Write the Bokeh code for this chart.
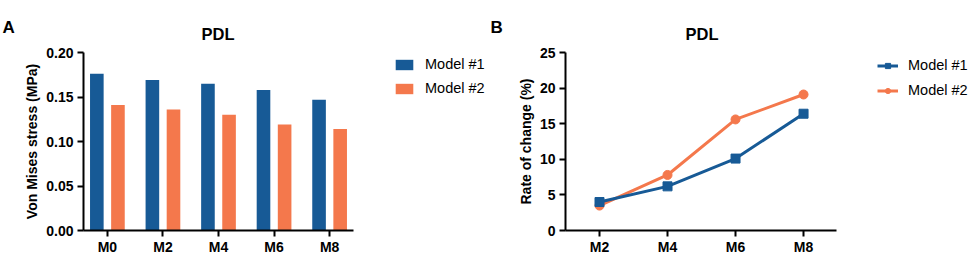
from bokeh.plotting import figure
from bokeh.layouts import row
from bokeh.models import Range1d, FixedTicker, Legend, NumeralTickFormatter, Title
from bokeh.embed import file_html
from bokeh.resources import INLINE

# ---------------- data ----------------
categories_a = ["M0", "M2", "M4", "M6", "M8"]
model1_stress = [0.176, 0.169, 0.165, 0.158, 0.147]
model2_stress = [0.141, 0.136, 0.130, 0.119, 0.114]
stress_ticks = [0.0, 0.05, 0.10, 0.15, 0.20]

categories_b = ["M2", "M4", "M6", "M8"]
model1_rate = [4.0, 6.2, 10.1, 16.4]
model2_rate = [3.5, 7.8, 15.6, 19.1]
rate_ticks = [0, 5, 10, 15, 20, 25]

series_names = ["Model #1", "Model #2"]
panel_letters = ["A", "B"]
panel_title = "PDL"
BLUE = "#175A96"
ORANGE = "#F4784C"
FONT = "Liberation Sans"
H = 257
TOP = 51
BOTTOM = 27


def style(p):
    p.xgrid.visible = False
    p.ygrid.visible = False
    p.outline_line_color = None
    p.background_fill_color = "white"
    p.border_fill_color = "white"
    for ax in (p.xaxis[0], p.yaxis[0]):
        ax.axis_line_width = 2
        ax.axis_line_color = "black"
        ax.major_tick_line_width = 2
        ax.major_tick_line_color = "black"
        ax.major_tick_out = 6
        ax.major_tick_in = 0
        ax.minor_tick_line_color = None
        ax.major_label_text_font = FONT
        ax.major_label_text_font_style = "bold"
        ax.major_label_text_font_size = "14px"
        ax.major_label_text_color = "black"
        ax.axis_label_text_font = FONT
        ax.axis_label_text_font_style = "bold"
        ax.axis_label_text_font_size = "14px"
        ax.axis_label_text_color = "black"
    p.xaxis[0].major_label_standoff = 2
    p.yaxis[0].major_label_standoff = 4
    p.yaxis[0].axis_label_standoff = 3


def make_title(text, offset, standoff, size):
    return Title(text=text, align="left", offset=offset, standoff=standoff,
                 text_font=FONT, text_font_style="bold", text_font_size=size,
                 text_color="black")


def letter_fig(width, letter):
    f = figure(width=width, height=H, output_backend="svg", toolbar_location=None,
               x_axis_type=None, y_axis_type=None,
               x_range=Range1d(0, 1), y_range=Range1d(0, 1),
               min_border_left=0, min_border_right=0, min_border_top=TOP, min_border_bottom=BOTTOM)
    f.title = make_title(letter, 2, 31, "17px")
    f.outline_line_color = None
    f.xgrid.visible = False
    f.ygrid.visible = False
    return f


def make_legend(items, x, y, spacing, glyph_width):
    return Legend(items=items, location=(x, y), orientation="vertical",
                  glyph_width=glyph_width, glyph_height=13, label_height=13, spacing=spacing,
                  label_standoff=10, padding=0, margin=0,
                  border_line_color=None, background_fill_alpha=0,
                  label_text_font=FONT, label_text_font_size="14.5px", label_text_color="black")


# ---------------- panel A ----------------
xa = list(range(len(categories_a)))
a_start, a_end = -0.43, len(categories_a) - 1 + 0.43
pA = figure(width=468, height=H, output_backend="svg", toolbar_location=None,
            x_range=Range1d(a_start, 6.86),
            y_range=Range1d(stress_ticks[0], stress_ticks[-1]),
            min_border_left=63, min_border_right=0, min_border_top=TOP, min_border_bottom=BOTTOM)
pA.title = make_title(panel_title, 118, 19, "16.5px")
off = 0.19
bw = 0.245
rA1 = pA.vbar(x=[v - off for v in xa], top=model1_stress, width=bw, color=BLUE, line_color=None)
rA2 = pA.vbar(x=[v + off for v in xa], top=model2_stress, width=bw, color=ORANGE, line_color=None)
style(pA)
pA.xaxis[0].bounds = (a_start, a_end)
pA.xaxis[0].ticker = FixedTicker(ticks=xa)
pA.xaxis[0].major_label_overrides = {i: c for i, c in enumerate(categories_a)}
pA.yaxis[0].ticker = FixedTicker(ticks=stress_ticks)
pA.yaxis[0].formatter = NumeralTickFormatter(format="0.00")
pA.yaxis[0].axis_label = "Von Mises stress (MPa)"
pA.add_layout(make_legend([(series_names[0], [rA1]), (series_names[1], [rA2])],
                          310, 134, 8, 22), "center")

# ---------------- panel B ----------------
xb = list(range(len(categories_b)))
b_start, b_end = -0.5, len(categories_b) - 1 + 0.485
pB = figure(width=464, height=H, output_backend="svg", toolbar_location=None,
            x_range=Range1d(b_start, 5.44),
            y_range=Range1d(rate_ticks[0], rate_ticks[-1]),
            min_border_left=60, min_border_right=0, min_border_top=TOP, min_border_bottom=BOTTOM)
pB.title = make_title(panel_title, 120, 19, "16.5px")
lB2 = pB.line(xb, model2_rate, line_color=ORANGE, line_width=3)
sB2 = pB.scatter(xb, model2_rate, marker="circle", size=9, color=ORANGE, line_color=ORANGE)
lB1 = pB.line(xb, model1_rate, line_color=BLUE, line_width=3)
sB1 = pB.scatter(xb, model1_rate, marker="square", size=9, color=BLUE, line_color=BLUE)
style(pB)
pB.xaxis[0].bounds = (b_start, b_end)
pB.xaxis[0].ticker = FixedTicker(ticks=xb)
pB.xaxis[0].major_label_overrides = {i: c for i, c in enumerate(categories_b)}
pB.yaxis[0].ticker = FixedTicker(ticks=rate_ticks)
pB.yaxis[0].axis_label = "Rate of change (%)"
pB.add_layout(make_legend([(series_names[0], [lB1, sB1]), (series_names[1], [lB2, sB2])],
                          312, 132, 9, 21), "center")

layout = row(letter_fig(20, panel_letters[0]), pA, letter_fig(17, panel_letters[1]), pB)
open("out.html", "w").write(file_html(layout, INLINE))
